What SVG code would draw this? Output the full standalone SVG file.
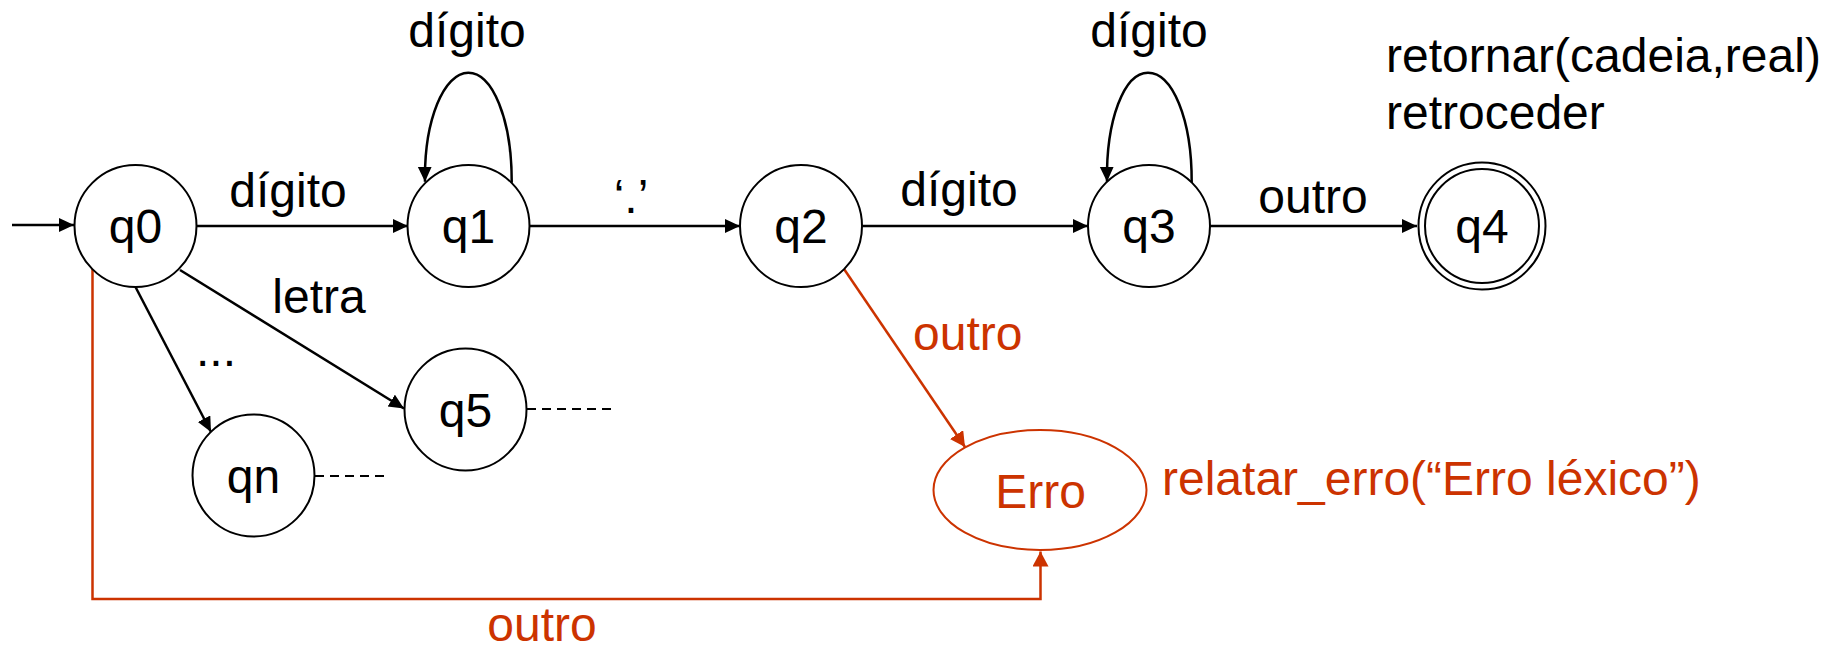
<svg xmlns="http://www.w3.org/2000/svg" width="1838" height="648" viewBox="0 0 1838 648">
  <style>
    text { font-family: "Liberation Sans", Arial, Helvetica, sans-serif; font-size: 48px; fill: #000; }
    .mid { text-anchor: middle; }
    .err { fill: #CC3300; }
    .state { fill: #fff; stroke: #000; stroke-width: 2; }
    .edge { fill: none; stroke: #000; stroke-width: 2.5; marker-end: url(#arrow); }
    .edge-err { fill: none; stroke: #CC3300; stroke-width: 2.5; marker-end: url(#arrow-err); }
    .dash { fill: none; stroke: #000; stroke-width: 2; stroke-dasharray: 9 6; }
  </style>
  <defs>
    <marker id="arrow" markerUnits="userSpaceOnUse" markerWidth="16" markerHeight="15" refX="15" refY="7" orient="auto">
      <path d="M0,0 L15,7 L0,14 z" fill="#000"/>
    </marker>
    <marker id="arrow-err" markerUnits="userSpaceOnUse" markerWidth="16" markerHeight="17" refX="15" refY="8" orient="auto">
      <path d="M0,0 L15,8 L0,16 z" fill="#CC3300"/>
    </marker>
  </defs>

  <rect width="1838" height="648" fill="#fff"/>

  <!-- transitions -->
  <g id="connectors">
    <line class="edge" x1="12" y1="225" x2="74" y2="225"/>
    <line class="edge" x1="197" y1="226" x2="408" y2="226"/>
    <path class="edge" d="M511.7,182.7 C512,118 492,72.7 468.3,72.7 C444,72.7 424,120 425,181.7"/>
    <line class="edge" x1="529.5" y1="226" x2="740" y2="226"/>
    <line class="edge" x1="862" y1="226" x2="1088" y2="226"/>
    <path class="edge" d="M1191.7,183 C1192,118 1172,72.7 1148,72.7 C1124,72.7 1106,120 1107,181.7"/>
    <line class="edge" x1="1210" y1="226" x2="1417" y2="226"/>
    <line class="edge" x1="180" y1="270" x2="404" y2="408.5"/>
    <line class="edge" x1="135.5" y1="287" x2="211" y2="432"/>
    <line class="dash" x1="527" y1="409" x2="617" y2="409"/>
    <line class="dash" x1="315" y1="476" x2="389" y2="476"/>
    <line class="edge-err" x1="844" y1="269" x2="965" y2="447"/>
    <path class="edge-err" d="M92.5,268 L92.5,599 L1040.5,599 L1040.5,551.5"/>
  </g>

  <!-- transition labels -->
  <g id="labels">
    <text class="mid" x="288" y="207">dígito</text>
    <text class="mid" x="467" y="47">dígito</text>
    <text class="mid" x="631" y="213">‘.’</text>
    <text class="mid" x="959" y="206">dígito</text>
    <text class="mid" x="1149" y="47">dígito</text>
    <text class="mid" x="1313" y="213">outro</text>
    <text class="mid" x="319" y="313">letra</text>
    <text x="196" y="366">...</text>
    <text class="err" x="913" y="350">outro</text>
    <text class="err mid" x="542" y="641">outro</text>
    <text x="1386" y="72">retornar(cadeia,real)</text>
    <text x="1386" y="129">retroceder</text>
    <text class="err" x="1162" y="495">relatar_erro(“Erro léxico”)</text>
  </g>

  <g id="q0">
    <circle class="state" cx="135.5" cy="226" r="61"/>
    <text class="mid" x="135.5" y="243">q0</text>
  </g>
  <g id="q1">
    <circle class="state" cx="468.5" cy="226" r="61"/>
    <text class="mid" x="468.5" y="243">q1</text>
  </g>
  <g id="q2">
    <circle class="state" cx="801" cy="226" r="61"/>
    <text class="mid" x="801" y="243">q2</text>
  </g>
  <g id="q3">
    <circle class="state" cx="1149" cy="226" r="61"/>
    <text class="mid" x="1149" y="243">q3</text>
  </g>
  <g id="q4">
    <circle class="state" cx="1482" cy="226" r="63.5"/>
    <circle class="state" cx="1482" cy="226" r="57"/>
    <text class="mid" x="1482" y="243">q4</text>
  </g>
  <g id="q5">
    <circle class="state" cx="465.5" cy="409.5" r="61"/>
    <text class="mid" x="465.5" y="426.5">q5</text>
  </g>
  <g id="qn">
    <circle class="state" cx="253.5" cy="475.5" r="61"/>
    <text class="mid" x="253.5" y="492.5">qn</text>
  </g>
  <g id="erro">
    <ellipse cx="1040" cy="490" rx="106.5" ry="60" fill="#fff" stroke="#CC3300" stroke-width="2"/>
    <text class="err mid" x="1040.5" y="508">Erro</text>
  </g>
</svg>
